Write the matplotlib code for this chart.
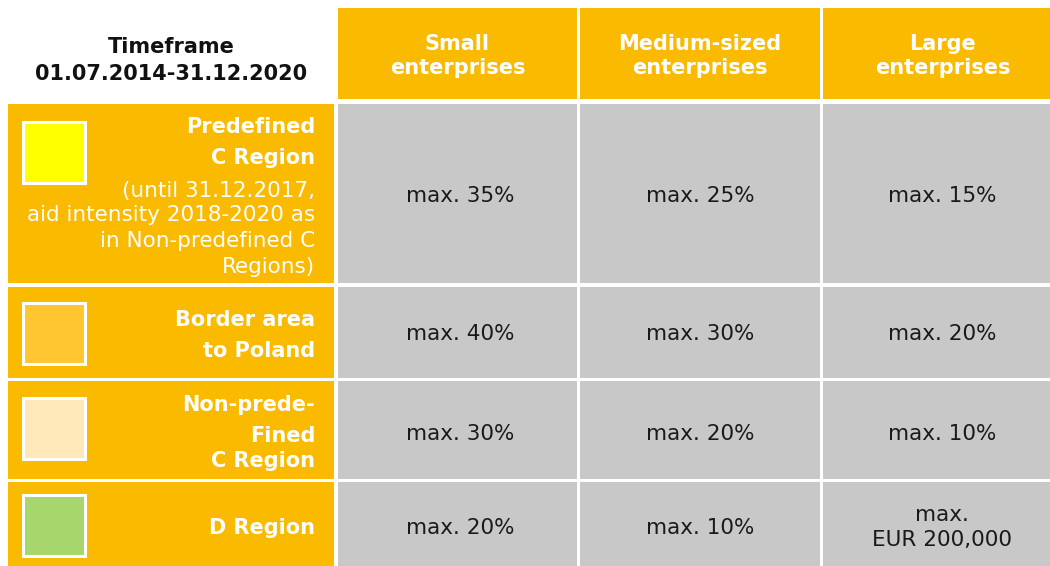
import matplotlib
matplotlib.use("Agg")
import matplotlib.pyplot as plt
from matplotlib.patches import Rectangle

# ---------------- data ----------------
corner_title = ["Timeframe", "01.07.2014-31.12.2020"]
column_headers = [["Small", "enterprises"],
                  ["Medium-sized", "enterprises"],
                  ["Large", "enterprises"]]
row_titles = [["Predefined", "C Region"],
              ["Border area", "to Poland"],
              ["Non-prede-", "Fined", "C Region"],
              ["D Region"]]
row_notes = [["(until 31.12.2017,", "aid intensity 2018-2020 as",
              "in Non-predefined C", "Regions)"],
             [], [], []]
values = [[["max. 35%"], ["max. 25%"], ["max. 15%"]],
          [["max. 40%"], ["max. 30%"], ["max. 20%"]],
          [["max. 30%"], ["max. 20%"], ["max. 10%"]],
          [["max. 20%"], ["max. 10%"], ["max.", "EUR 200,000"]]]
swatch_colors = ["#FFFF00", "#FFC632", "#FFE9B8", "#A6D66C"]

# ---------------- style / layout ----------------
ORANGE = "#F9BA00"
GRAY = "#C8C8C8"
W, H = 1050, 566
col_edges = [(8, 334), (338, 577), (580, 820), (823, 1062)]
header_edge = (8, 99)
row_edges = [(104, 283), (287, 378), (381, 479), (482, 575)]
# baselines of text lines (pixel y)
corner_base = [53, 80]
header_base = [50, 74]
title_base = [[133, 164], [326, 357], [411, 442, 467], [534]]
note_base = [[197, 221, 247, 273], [], [], []]
value_base = [[[202], [202], [202]],
              [[340], [340], [340]],
              [[440], [440], [440]],
              [[534], [534], [521, 546]]]
label_right = 315
FS_B = 15
FS_R = 15.5

fig = plt.figure(figsize=(W / 100, H / 100), dpi=100)
ax = fig.add_axes([0, 0, 1, 1])
ax.set_xlim(0, W)
ax.set_ylim(H, 0)
ax.axis("off")
fam = "DejaVu Sans"

def rect(x0, x1, y0, y1, color, **kw):
    ax.add_patch(Rectangle((x0, y0), x1 - x0, y1 - y0, facecolor=color,
                           edgecolor=kw.pop("ec", "none"), **kw))

# corner title
cx = (col_edges[0][0] + col_edges[0][1]) / 2
for line, yb in zip(corner_title, corner_base):
    ax.text(cx, yb, line, ha="center", va="baseline", fontsize=FS_B,
            fontweight="bold", color="#111111", family=fam)

# column headers
for j, hdr in enumerate(column_headers):
    x0, x1 = col_edges[j + 1]
    rect(x0, x1, header_edge[0], header_edge[1], ORANGE)
    for line, yb in zip(hdr, header_base):
        ax.text((x0 + x1) / 2, yb, line, ha="center", va="baseline",
                fontsize=FS_B, fontweight="bold", color="white", family=fam)

# rows
for i, (y0, y1) in enumerate(row_edges):
    lx0, lx1 = col_edges[0]
    rect(lx0, lx1, y0, y1, ORANGE)
    # swatch
    sy = (y0 + min(y1, 566)) / 2 if i < 3 else 525
    sy = [152.5, 333, 428.5, 525][i]
    rect(23, 85, sy - 30.5, sy + 30.5, swatch_colors[i], ec="white",
         linewidth=2.2)
    for line, yb in zip(row_titles[i], title_base[i]):
        ax.text(label_right, yb, line, ha="right", va="baseline",
                fontsize=FS_B, fontweight="bold", color="white", family=fam)
    for line, yb in zip(row_notes[i], note_base[i]):
        ax.text(label_right, yb, line, ha="right", va="baseline",
                fontsize=FS_R, color="white", family=fam)
    for j in range(3):
        x0, x1 = col_edges[j + 1]
        rect(x0, x1, y0, y1, GRAY)
        xc = [460, 700, 942][j]
        for line, yb in zip(values[i][j], value_base[i][j]):
            ax.text(xc, yb, line, ha="center", va="baseline",
                    fontsize=FS_R, color="#1A1A1A", family=fam)

fig.savefig("out.png", dpi=100, facecolor="white")
